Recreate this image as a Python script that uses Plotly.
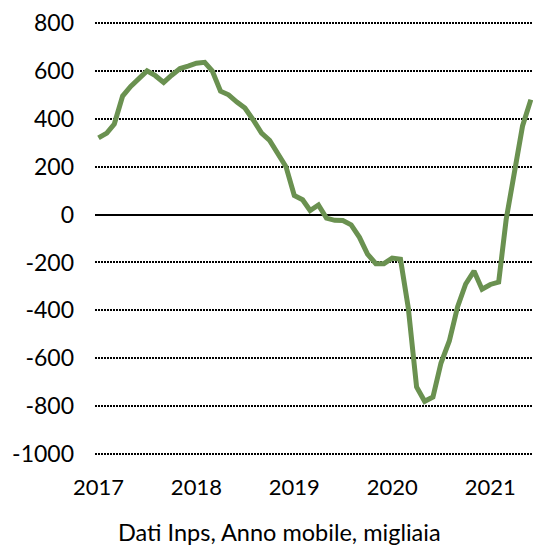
import plotly.graph_objects as go
import pandas as pd

months = pd.date_range("2017-01-01", "2021-06-01", freq="MS")
values = [
    320, 340, 378, 495, 535, 570, 600, 580, 552, 582, 610, 620,
    632, 636, 600, 515, 500, 470, 445, 395, 340, 310, 250, 200,
    80, 62, 17, 40, -15, -24, -25, -43, -95, -165, -205, -205,
    -182, -187, -390, -720, -780, -762, -620, -528, -385, -290, -236, -312,
    -292, -282, -20, 170, 370, 480,
]
year_ticks = ["2017-01-01", "2018-01-01", "2019-01-01", "2020-01-01", "2021-01-01"]
year_labels = ["2017", "2018", "2019", "2020", "2021"]
y_ticks = [800, 600, 400, 200, 0, -200, -400, -600, -800, -1000]
y_labels = ["800", "600", "400", "200", "0", "-200", "-400", "-600", "-800", "-1000"]
caption = "Dati Inps, Anno mobile, migliaia"

fig = go.Figure()
fig.add_trace(go.Scatter(
    x=months, y=values, mode="lines",
    line=dict(color="#6A9150", width=5),
    showlegend=False, hoverinfo="skip",
))

font_family = "Lato, 'Open Sans', sans-serif"

fig.update_layout(
    width=533, height=548,
    margin=dict(l=95, r=0, t=22, b=93, autoexpand=False),
    paper_bgcolor="white", plot_bgcolor="white",
    font=dict(family=font_family, size=22, color="black"),
    xaxis=dict(
        type="date",
        range=["2016-12-19", "2021-06-09"],
        tickvals=year_ticks, ticktext=year_labels,
        showgrid=False, zeroline=False, showline=False,
        ticks="", ticklabelstandoff=17,
        tickfont=dict(size=22),
    ),
    yaxis=dict(
        range=[-1004.2, 804.2],
        tickvals=y_ticks, ticktext=y_labels,
        showgrid=True, gridcolor="black", gridwidth=1.5, griddash="1.5px,1.5px",
        zeroline=True, zerolinecolor="black", zerolinewidth=2,
        showline=False, ticks="", ticklabelstandoff=20,
        tickfont=dict(size=23),
    ),
    annotations=[dict(
        text=caption, xref="paper", yref="paper",
        x=(279.5 - 95) / 438, y=-(532 - 455) / 433, xanchor="center", yanchor="middle",
        showarrow=False, font=dict(size=23.5, family=font_family, color="black"),
    )],
)

fig.write_html(
    "out.html",
    config={"displayModeBar": False},
    post_script="document.body.style.margin='0';document.body.style.overflow='hidden';",
)
